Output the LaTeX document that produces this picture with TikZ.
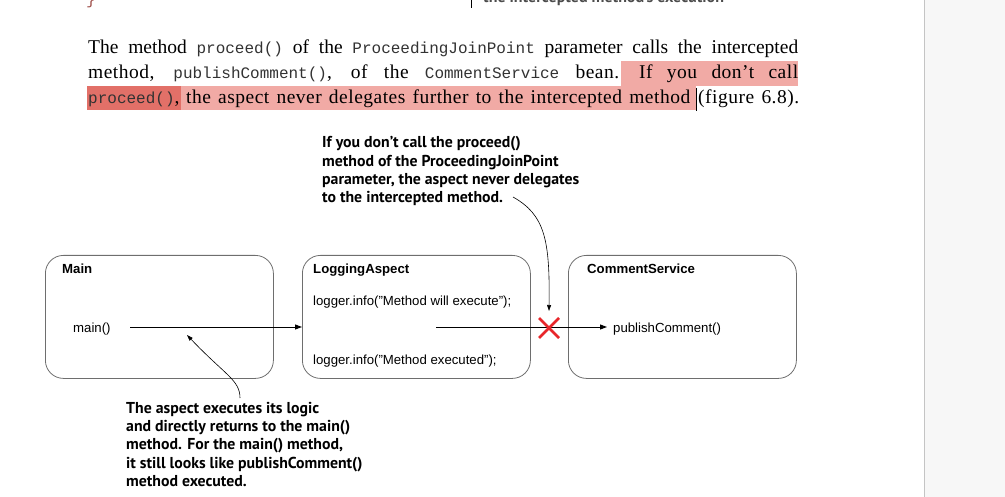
\documentclass[tikz,border=0pt]{standalone}
\usepackage{fontspec}
\setmainfont{Liberation Serif}
\setsansfont{Liberation Sans}
\setmonofont{Liberation Mono}
\newfontfamily\notefont{PT Sans}
\newfontfamily\widerserif[LetterSpace=2.5]{Liberation Serif}
\usetikzlibrary{arrows.meta,calc}
\definecolor{hlight}{RGB}{241,170,165}
\definecolor{hdark}{RGB}{226,112,104}
\definecolor{pagegray}{RGB}{247,247,247}
\definecolor{sepgray}{RGB}{196,196,196}
\definecolor{boxgray}{RGB}{110,110,110}
\definecolor{xred}{RGB}{232,38,42}
\definecolor{codecol}{RGB}{50,50,50}
\newcommand{\cd}[1]{{\ttfamily\fontsize{16}{25}\selectfont\color{codecol}#1}}
\tikzset{
  x=1pt, y=-1pt,
  cbox/.style={draw=boxgray, line width=0.8pt, rounded corners=18pt, minimum width=228pt, minimum height=123pt, anchor=north west, inner sep=0pt},
  boxtitle/.style={anchor=base west, inner sep=0pt, font=\sffamily\bfseries\fontsize{13.2}{15}\selectfont},
  boxtext/.style={anchor=base west, inner sep=0pt, font=\sffamily\fontsize{13.2}{15}\selectfont},
  note/.style={anchor=north west, inner sep=0pt, align=left, font=\notefont\bfseries\fontsize{15.8}{18.2}\selectfont},
  para/.style={anchor=base west, inner sep=0pt, font=\fontsize{19.5}{25}\selectfont},
  parawide/.style={anchor=base west, inner sep=0pt, font=\widerserif\fontsize{19.5}{25}\selectfont},
  flow/.style={line width=0.9pt, -{Triangle[length=7pt,width=5pt]}},
  pointer/.style={line width=0.6pt, -{Triangle[length=6pt,width=4pt]}},
}
\begin{document}
\begin{tikzpicture}
\useasboundingbox (0,0) rectangle (1005,497);
\clip (0,0) rectangle (1005,497);
% page margin
\fill[pagegray] (925,0) rectangle (1005,497);
\draw[sepgray, line width=1pt] (924.5,0) -- (924.5,497);
% top remnants
\node[anchor=base west, inner sep=0pt, text=hdark!70!black, font=\ttfamily\fontsize{16}{18}\selectfont] (brace) at (86,5) {\}};
\draw[black, line width=1pt] (471,0) -- (471,8);
\node[anchor=base west, inner sep=0pt, text=black!70, font=\notefont\bfseries\fontsize{16}{18}\selectfont] (sidenote) at (483,3) {the intercepted method’s execution};
% highlights
\fill[hlight] (621,61) rectangle (798,86);
\fill[hdark] (87,86.5) rectangle (181,110);
\fill[hlight] (181,86.5) rectangle (696,110);
\draw[black, line width=0.8pt] (696.5,88) -- (696.5,111);
% paragraph
\node[para] (p1) at (88,54) {\hbox to 710pt{The method \cd{proceed()} of the \cd{ProceedingJoinPoint} parameter calls the intercepted}};
\node[parawide] (p2a) at (88,79) {\hbox to 531pt{method, \cd{publishComment()}, of the \cd{CommentService} bean.}};
\node[parawide] (p2b) at (639,79) {\hbox to 159pt{If you don’t call}};
\node[para] (p3a) at (88,104) {\cd{proceed()},};
\node[parawide] (p3b) at (186,104) {\hbox to 504pt{the aspect never delegates further to the intercepted method}};
\node[parawide] (p3c) at (698,104) {\hbox to 101pt{(figure 6.8).}};
% boxes
\node[cbox] (mainbox) at (45,255) {};
\node[cbox] (aspbox) at (302,255) {};
\node[cbox] (svcbox) at (568,255) {};
\node[boxtitle] (maint) at (62,274) {Main};
\node[boxtitle] (aspt) at (313,274) {LoggingAspect};
\node[boxtitle] (svct) at (587,274) {CommentService};
\node[boxtext] (mainfn) at (73,332.5) {main()};
\node[boxtext] (before) at (313,305.5) {logger.info("Method will execute");};
\node[boxtext] (after) at (313,364.5) {logger.info("Method executed");};
\node[boxtext] (pubfn) at (613,332.5) {publishComment()};
% arrows
\coordinate (a1s) at (130,327);
\coordinate (a2s) at (436,327);
\draw[flow] (a1s) -- (a1s -| aspbox.west);
\draw[flow] (a2s) -- ($(a2s -| pubfn.west)+(-6,0)$);
% red cross
\coordinate (xc) at (549,328);
\draw[xred, line width=2.6pt] ($(xc)+(-10,-10)$) -- ($(xc)+(10,10)$) ($(xc)+(-10,10)$) -- ($(xc)+(10,-10)$);
% notes
\node[note] (topnote) at (322,136.5) {If you don’t call the proceed()\\method of the ProceedingJoinPoint\\parameter, the aspect never delegates\\to the intercepted method.};
\node[note] (botnote) at (126,402) {The aspect executes its logic\\and directly returns to the main()\\method. For the main() method,\\it still looks like publishComment()\\method executed.};
\coordinate (t1s) at (513,197);
\coordinate (t1e) at (549,311);
\draw[pointer] (t1s) .. controls (545,215) and (550,240) .. (t1e);
\coordinate (t2s) at (240,398);
\coordinate (t2e) at (187,335);
\draw[pointer] (t2s) .. controls (240,380) and (225,375) .. (t2e);
\end{tikzpicture}
\end{document}
